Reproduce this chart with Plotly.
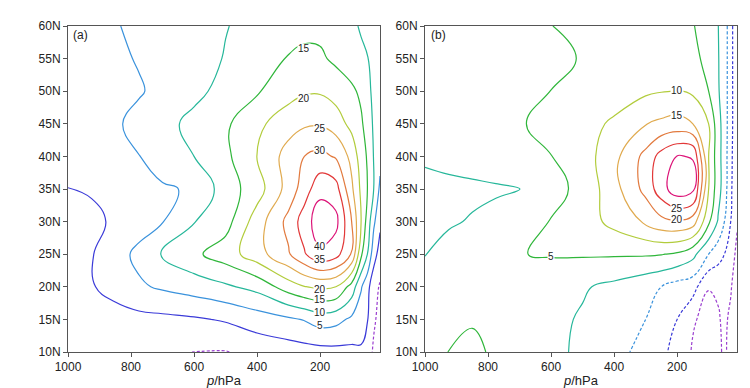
import plotly.graph_objects as go

# pressure levels (hPa) and latitudes (deg N)
pressure = [1000, 925, 850, 775, 700, 600, 500, 400, 300, 250, 200, 150, 100, 70, 50, 30, 10]
latitude = [10, 15, 20, 25, 30, 35, 40, 45, 50, 55, 60]
lat_ticks = [10, 15, 20, 25, 30, 35, 40, 45, 50, 55, 60]
lat_labels = ["10N", "15N", "20N", "25N", "30N", "35N", "40N", "45N", "50N", "55N", "60N"]
p_ticks = [1000, 800, 600, 400, 200]

# panel (a) zonal wind (m/s), rows = latitude
u_a_10 = [-2.5, -2.8, -3.0, -3.5, -4.3, -5.05, -5.2, -3.5, -2.5, -2.0, -1.8, -1.5, -1.2, -0.6, -1.5, -6.0, -9.0]
u_a_15 = [-2.5, -2.2, -1.7, -1.5, -1.2, -0.6, 0.5, 2.5, 4.2, 5.3, 7.3, 6.6, 4.0, 2.0, 0.2, -4.0, -7.0]
u_a_20 = [-1.2, -0.3, 1.5, 4.3, 5.7, 7.3, 9.2, 11.6, 17.5, 19.8, 20.8, 20.0, 13.0, 5.5, 1.5, -3.0, -5.5]
u_a_25 = [-1.5, -0.3, 3.0, 6.2, 10.3, 14.0, 17.5, 22.8, 29.5, 34.5, 39.0, 37.0, 29.5, 16.0, 10.0, 2.0, -2.0]
u_a_30 = [-2.5, -1.2, 0.8, 2.8, 4.8, 9.8, 13.0, 22.5, 31.5, 37.5, 43.0, 41.5, 30.0, 20.0, 13.0, 6.0, 1.0]
u_a_35 = [-0.1, 0.5, 2.2, 3.3, 4.5, 5.5, 12.5, 17.7, 27.0, 32.5, 38.5, 37.0, 26.0, 19.0, 15.0, 10.0, 4.0]
u_a_40 = [2.5, 3.3, 4.2, 4.9, 7.0, 10.0, 13.8, 20.2, 27.0, 30.0, 31.3, 29.5, 23.5, 17.5, 14.5, 9.8, 6.5]
u_a_45 = [2.0, 3.0, 4.4, 6.3, 8.5, 11.3, 14.2, 18.8, 23.0, 24.3, 24.5, 22.5, 18.5, 15.8, 12.8, 9.3, 7.5]
u_a_50 = [1.5, 2.5, 3.5, 4.6, 6.2, 8.8, 11.5, 14.5, 18.0, 19.4, 19.5, 18.0, 16.0, 14.0, 10.6, 9.5, 8.8]
u_a_55 = [2.0, 3.0, 4.2, 5.3, 6.3, 7.8, 10.3, 12.5, 15.3, 16.0, 15.8, 14.0, 12.0, 11.0, 10.1, 9.5, 9.0]
u_a_60 = [2.5, 3.5, 4.7, 6.0, 7.0, 8.3, 9.8, 11.5, 13.2, 13.8, 13.7, 13.0, 11.0, 9.5, 9.0, 8.8, 9.0]

# panel (b) zonal wind (m/s), rows = latitude
u_b_10 = [3.5, 5.05, 5.8, 4.4, 3.5, 1.5, -1.2, -3.5, -6.5, -9.0, -11.5, -15.5, -17.0, -16.0, -14.2, -16.5, -19.5]
u_b_15 = [2.5, 4.0, 4.7, 3.8, 2.5, 1.2, -0.5, -2.8, -5.0, -7.0, -10.0, -14.5, -16.5, -15.5, -14.0, -16.0, -19.0]
u_b_20 = [1.5, 2.3, 2.8, 2.8, 2.5, 1.5, 0.5, -1.2, -3.5, -5.0, -7.0, -8.0, -14.8, -14.3, -13.0, -14.5, -18.0]
u_b_25 = [-0.1, 1.8, 3.0, 4.0, 4.85, 5.4, 5.5, 5.5, 5.5, 5.2, 4.3, 1.5, -5.0, -8.0, -10.0, -13.0, -16.0]
u_b_30 = [-1.3, -0.6, 0.4, 1.5, 2.8, 5.2, 7.5, 11.5, 15.8, 18.5, 19.3, 17.5, 6.0, -0.5, -5.0, -10.0, -14.5]
u_b_35 = [-1.6, -1.3, -1.0, -0.6, -0.05, 3.4, 6.3, 13.2, 21.5, 28.0, 33.0, 31.5, 10.0, 2.0, -2.5, -9.0, -14.5]
u_b_40 = [0.8, 1.6, 2.3, 3.1, 4.0, 4.9, 7.5, 13.5, 21.5, 27.0, 30.2, 29.8, 10.0, 2.0, -2.5, -8.5, -14.5]
u_b_45 = [1.0, 1.6, 2.4, 3.3, 4.5, 6.8, 8.3, 10.7, 14.8, 16.0, 16.8, 15.0, 10.0, 2.0, -2.5, -8.0, -14.5]
u_b_50 = [2.0, 2.5, 3.0, 3.5, 4.2, 5.02, 6.0, 7.8, 9.2, 9.8, 10.1, 9.2, 5.0, 0.5, -2.5, -8.0, -14.5]
u_b_55 = [2.5, 2.8, 3.2, 3.6, 4.0, 4.6, 5.1, 7.0, 8.3, 8.5, 8.3, 6.8, 3.0, 0.3, -2.5, -8.0, -14.5]
u_b_60 = [3.0, 3.3, 3.6, 3.9, 4.2, 4.95, 5.8, 6.5, 7.0, 7.0, 6.5, 5.3, 2.5, 0.1, -2.5, -8.0, -14.5]

u_a = [u_a_10, u_a_15, u_a_20, u_a_25, u_a_30, u_a_35, u_a_40, u_a_45, u_a_50, u_a_55, u_a_60]
u_b = [u_b_10, u_b_15, u_b_20, u_b_25, u_b_30, u_b_35, u_b_40, u_b_45, u_b_50, u_b_55, u_b_60]

levels_a = [-5, 0, 5, 10, 15, 20, 25, 30, 35, 40]
colors_a = ["#9b3fd0", "#3a3ad8", "#3a92dc", "#26b79a", "#2fb63a", "#b2cc3c",
            "#e0aa4e", "#e27a3e", "#e23838", "#dc1478"]
levels_b = [-15, -10, -5, 0, 5, 10, 15, 20, 25, 30]
colors_b = ["#9b3fd0", "#3a3ad8", "#3a92dc", "#26b79a", "#2fb63a", "#b2cc3c",
            "#e0aa4e", "#e27a3e", "#e23838", "#dc1478"]

# contour labels: (pressure, latitude, text)
labels_a = [(250, 56.6, "15"), (250, 48.9, "20"), (200, 44.3, "25"), (200, 40.9, "30"),
            (200, 26.2, "40"), (200, 24.2, "35"), (200, 19.6, "20"), (200, 18.0, "15"),
            (200, 16.0, "10"), (200, 14.0, "5")]
labels_b = [(200, 50.1, "10"), (200, 46.3, "15"), (200, 32.0, "25"), (200, 30.35, "20"),
            (600, 24.6, "5")]

fig = go.Figure()

def add_panel(z, levels, colors, xa, ya):
    for lev, col in zip(levels, colors):
        fig.add_trace(go.Contour(
            x=pressure, y=latitude, z=z,
            autocontour=False,
            contours=dict(start=lev, end=lev, size=5, coloring="none", showlabels=False),
            line=dict(color=col, width=1.2, dash="3px,2px" if lev < 0 else "solid", smoothing=1.2),
            showscale=False, hoverinfo="skip", xaxis=xa, yaxis=ya,
        ))

add_panel(u_a, levels_a, colors_a, "x", "y")
add_panel(u_b, levels_b, colors_b, "x2", "y2")

lab_font = dict(size=10, color="#222", family="Liberation Sans, Arial")
annotations = []
for p, la, t in labels_a:
    annotations.append(dict(x=p, y=la, xref="x", yref="y", text=t, showarrow=False,
                            bgcolor="white", borderpad=0, height=9, font=lab_font))
for p, la, t in labels_b:
    annotations.append(dict(x=p, y=la, xref="x2", yref="y2", text=t, showarrow=False,
                            bgcolor="white", borderpad=0, height=9, font=lab_font))
pan_font = dict(size=12, color="#222", family="Liberation Sans, Arial")
annotations.append(dict(x=0.005, y=0.999, xref="paper", yref="paper", text="(a)", showarrow=False,
                        xanchor="left", yanchor="top", font=pan_font))
annotations.append(dict(x=0.539, y=0.999, xref="paper", yref="paper", text="(b)", showarrow=False,
                        xanchor="left", yanchor="top", font=pan_font))

axis_font = dict(size=12, color="#222", family="Liberation Sans, Arial")
xcommon = dict(range=[1000, 10], tickvals=p_ticks, ticktext=[str(v) for v in p_ticks],
               ticks="outside", ticklen=4, tickcolor="#555", showline=True, mirror=True,
               linecolor="#555", linewidth=1, showgrid=False, zeroline=False,
               tickfont=axis_font, automargin=False,
               title=dict(text="<i>p</i>/hPa", font=dict(size=13, color="#222",
                                                          family="Liberation Sans, Arial"), standoff=2))
ycommon = dict(range=[10, 60], tickvals=lat_ticks, ticktext=lat_labels,
               ticks="outside", ticklen=4, tickcolor="#555", showline=True, mirror=True,
               linecolor="#555", linewidth=1, showgrid=False, zeroline=False,
               tickfont=axis_font, automargin=False)

# the page body adds an 8px offset; the figure is sized to fill the rest of the window
FW, FH = 742, 380
L, T, R, B = 60, 18, 13, 36
W = FW - L - R
fig.update_layout(
    width=FW, height=FH,
    margin=dict(l=L, r=R, t=T, b=B),
    paper_bgcolor="white", plot_bgcolor="white",
    showlegend=False,
    xaxis=dict(domain=[0, 312 / W], anchor="y", **xcommon),
    yaxis=dict(domain=[0, 1], anchor="x", **ycommon),
    xaxis2=dict(domain=[(417 - L) / W, 1], anchor="y2", **xcommon),
    yaxis2=dict(domain=[0, 1], anchor="x2", **ycommon),
    annotations=annotations,
)

fig.write_html("out.html")
